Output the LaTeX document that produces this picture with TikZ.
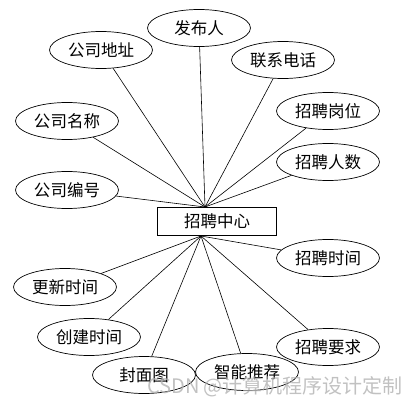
\documentclass[tikz,border=0pt]{standalone}
\usepackage{fontspec}
\newfontfamily\cjk{Noto Sans CJK SC}
\usepackage{xcolor}
\usetikzlibrary{shapes.geometric,positioning}

\begin{document}
\begin{tikzpicture}[x=1pt, y=-1pt,
    attr/.style={ellipse, draw, line width=0.7pt, minimum width=103pt, minimum height=37pt,
        inner sep=0pt, font=\cjk\fontsize{16.5}{18}\selectfont},
    entity/.style={rectangle, draw, line width=0.7pt, minimum width=119pt, minimum height=28pt,
        inner sep=0pt, font=\cjk\fontsize{16.5}{18}\selectfont},
    link/.style={line width=0.6pt}]
    \useasboundingbox (0,0) rectangle (415,407);

    % Entity
    \node[entity] (center) at (217,221) {招聘中心};
    \coordinate (top) at (205,207);
    \coordinate (bot) at (201,236);

    % Attributes above
    \node[attr] (fbr)  at (199,28)  {发布人};
    \node[attr] (gsdz) at (101,50)  {公司地址};
    \node[attr] (lxdh) at (283,60)  {联系电话};
    \node[attr] (gsmc) at (67,121)  {公司名称};
    \node[attr] (zpgw) at (328,111) {招聘岗位};
    \node[attr] (zprs) at (328,162) {招聘人数};
    \node[attr] (gsbh) at (67,190)  {公司编号};

    % Attributes below
    \node[attr] (zpsj) at (328,258) {招聘时间};
    \node[attr] (gxsj) at (65,287)  {更新时间};
    \node[attr] (cjsj) at (89,337)  {创建时间};
    \node[attr] (zpyq) at (328,347) {招聘要求};
    \node[attr] (fmt)  at (144,375) {封面图};
    \node[attr] (zntj) at (247,372) {智能推荐};

    % Connectors
    \foreach \a in {fbr, gsdz, lxdh, gsmc, zpgw, zprs, gsbh} {
        \draw[link] (top) -- (\a);
    }
    \foreach \a in {zpsj, gxsj, cjsj, zpyq, fmt, zntj} {
        \draw[link] (bot) -- (\a);
    }

    % Watermark
    \node[text=gray!60, opacity=0.8, font=\cjk\fontsize{20}{22}\selectfont] (mark) at (275,387) {CSDN @计算机程序设计定制};
\end{tikzpicture}
\end{document}
